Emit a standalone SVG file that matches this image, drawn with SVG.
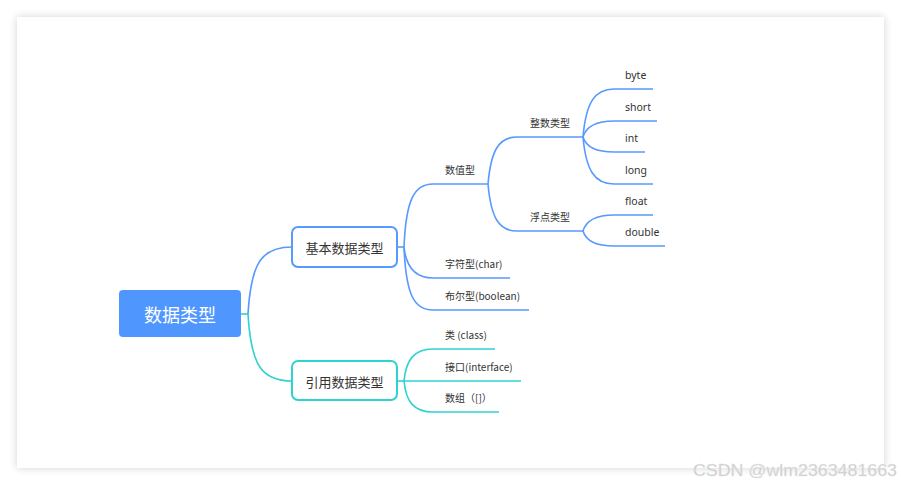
<svg xmlns="http://www.w3.org/2000/svg" width="901" height="486" viewBox="0 0 901 486">
  <defs>
    <filter id="shadow" x="-5%" y="-5%" width="110%" height="110%">
      <feGaussianBlur in="SourceAlpha" stdDeviation="4"/>
      <feComponentTransfer><feFuncA type="linear" slope="0.18"/></feComponentTransfer>
      <feMerge><feMergeNode/><feMergeNode in="SourceGraphic"/></feMerge>
    </filter>
  </defs>
  <style>
    .blue { fill: none; stroke: #5799FF; stroke-width: 1.6; }
    .cyan { fill: none; stroke: #2ED3D0; stroke-width: 1.6; }
    .lbl { font-family: "Noto Sans CJK SC", "Noto Sans", sans-serif; font-size: 10px; fill: #333; }
    .lat { font-family: "Noto Sans", "Noto Sans CJK SC", sans-serif; font-size: 10.5px; fill: #333; }
    .box { fill: #fff; stroke-width: 2; }
    .boxtxt { font-family: "Noto Sans CJK SC", sans-serif; font-size: 13px; fill: #333; text-anchor: middle; dominant-baseline: central; }
  </style>
  <rect width="901" height="486" fill="#fff"/>
  <rect x="17" y="17" width="867" height="451" fill="#fff" filter="url(#shadow)"/>

  <g id="connectors">
    <path class="cyan" d="M241,314 H248"/>
    <path class="blue" d="M248,314 C251,262 262,247 292,247"/>
    <path class="cyan" d="M248,314 C251,366 262,381 292,381"/>

    <path class="blue" d="M397,247 H404"/>
    <path class="blue" d="M404,247 C406,200 414,184 433,184 H488"/>
    <path class="blue" d="M404,247 C406,266 414,278 433,278 H510"/>
    <path class="blue" d="M404,247 C406,295 414,310 433,310 H529"/>

    <path class="blue" d="M488,184 C491,150 499,137 517,137 H583"/>
    <path class="blue" d="M488,184 C491,218 499,231 517,231 H583"/>

    <path class="blue" d="M583,137 C586,102 595,89 614,89 H653"/>
    <path class="blue" d="M583,137 C586,127 595,121 614,121 H657"/>
    <path class="blue" d="M583,137 C586,147 595,152 614,152 H645"/>
    <path class="blue" d="M583,137 C586,171 595,184 614,184 H653"/>

    <path class="blue" d="M583,231 C586,221 595,215 614,215 H653"/>
    <path class="blue" d="M583,231 C586,241 595,246 614,246 H665"/>

    <path class="cyan" d="M397,381 H404"/>
    <path class="cyan" d="M404,381 C406,360 414,349 433,349 H495"/>
    <path class="cyan" d="M404,381 H521"/>
    <path class="cyan" d="M404,381 C406,402 414,412 433,412 H499"/>
  </g>

  <g id="root">
    <rect x="119" y="290" width="122" height="47" rx="4" fill="#4F97FF"/>
    <text x="180" y="314" font-family="Noto Sans CJK SC, sans-serif" font-size="18" fill="#fff" text-anchor="middle" dominant-baseline="central">数据类型</text>
  </g>
  <g id="basic">
    <rect class="box" x="292" y="227" width="105" height="40" rx="6" stroke="#5799FF"/>
    <text class="boxtxt" x="344.5" y="247.5">基本数据类型</text>
  </g>
  <g id="reference">
    <rect class="box" x="292" y="361" width="105" height="39" rx="6" stroke="#2ED3D0"/>
    <text class="boxtxt" x="344.5" y="381">引用数据类型</text>
  </g>

  <g id="numeric"><text class="lbl" x="445" y="174">数值型</text></g>
  <g id="char"><text class="lbl" x="445" y="268">字符型(char)</text></g>
  <g id="boolean"><text class="lbl" x="445" y="300">布尔型(boolean)</text></g>
  <g id="integer"><text class="lbl" x="530" y="127">整数类型</text></g>
  <g id="floating"><text class="lbl" x="530" y="221">浮点类型</text></g>
  <g id="byte"><text class="lat" x="625" y="79">byte</text></g>
  <g id="short"><text class="lat" x="625" y="111">short</text></g>
  <g id="int"><text class="lat" x="625" y="142">int</text></g>
  <g id="long"><text class="lat" x="625" y="174">long</text></g>
  <g id="float"><text class="lat" x="625" y="205">float</text></g>
  <g id="double"><text class="lat" x="625" y="236">double</text></g>
  <g id="class"><text class="lbl" x="445" y="339">类 (class)</text></g>
  <g id="interface"><text class="lbl" x="445" y="371">接口(interface)</text></g>
  <g id="array"><text class="lbl" x="445" y="402">数组（[]）</text></g>

  <text x="693" y="476" font-family="Liberation Sans, sans-serif" font-size="16.5" fill="#c9c9c9" stroke="#e8e8e8" stroke-width="0.4" textLength="204" lengthAdjust="spacingAndGlyphs">CSDN @wlm2363481663</text>
</svg>
